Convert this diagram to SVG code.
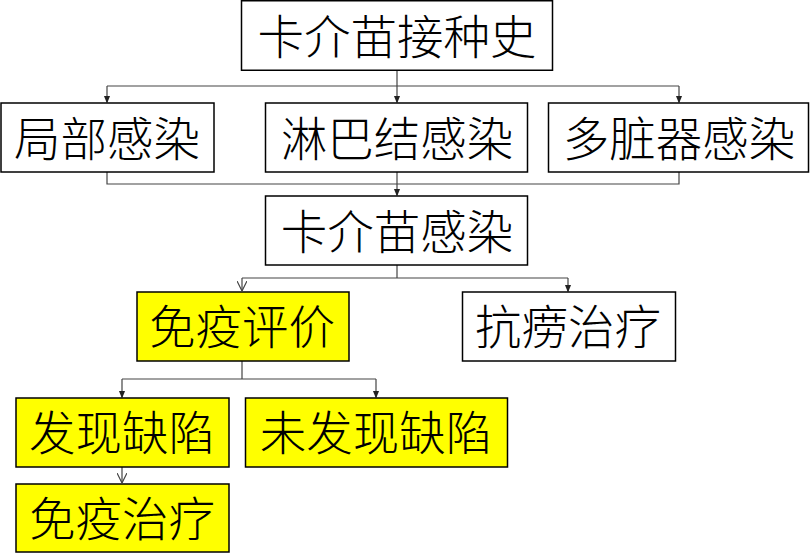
<svg xmlns="http://www.w3.org/2000/svg" width="810" height="553" viewBox="0 0 810 553">
<style>
.box{fill:#fff;stroke:#000;stroke-width:1.5}
.yel{fill:#ffff00}
.t{font-family:"Noto Sans CJK SC","Noto Sans CJK JP",sans-serif;font-size:46.5px;font-weight:300;fill:#000;text-anchor:middle}
.c{fill:none;stroke:#444;stroke-width:1.2}
</style>
<defs>
<marker id="a" markerWidth="8" markerHeight="10" refX="8" refY="4" orient="auto" markerUnits="userSpaceOnUse" viewBox="0 0 10 8">
<path d="M0,0 L10,4 L0,8 Z" fill="#222"/>
</marker>
<marker id="o" markerWidth="10" markerHeight="10" refX="10" refY="5" orient="auto" markerUnits="userSpaceOnUse" viewBox="0 0 10 10">
<path d="M0,0 L10,5 L0,10" fill="none" stroke="#444" stroke-width="1.2"/>
</marker>
</defs>
<g id="connectors">
<path class="c" d="M397,70 V86 M107,86 H679"/>
<path class="c" d="M107,86 V102" marker-end="url(#a)"/>
<path class="c" d="M397,86 V102" marker-end="url(#a)"/>
<path class="c" d="M679,86 V102" marker-end="url(#a)"/>
<path class="c" d="M107,172 V184 H679 V172"/>
<path class="c" d="M397,172 V195" marker-end="url(#a)"/>
<path class="c" d="M397,265 V278 M242,278 H568"/>
<path class="c" d="M242,278 V291" marker-end="url(#o)"/>
<path class="c" d="M568,278 V291" marker-end="url(#a)"/>
<path class="c" d="M242,361 V379 M122,379 H376"/>
<path class="c" d="M122,379 V397" marker-end="url(#a)"/>
<path class="c" d="M376,379 V397" marker-end="url(#a)"/>
<path class="c" d="M122,467 V483" marker-end="url(#o)"/>
</g>
<g id="n1"><rect class="box" x="241.5" y="0.75" width="311" height="69.5"/><text class="t" x="397" y="54">卡介苗接种史</text></g>
<g id="n2"><rect class="box" x="1" y="103" width="213" height="69"/><text class="t" x="107" y="156">局部感染</text></g>
<g id="n3"><rect class="box" x="265.5" y="103" width="262" height="69"/><text class="t" x="397" y="156">淋巴结感染</text></g>
<g id="n4"><rect class="box" x="548.5" y="103" width="260" height="69"/><text class="t" x="679" y="156">多脏器感染</text></g>
<g id="n5"><rect class="box" x="265.5" y="196" width="262" height="69"/><text class="t" x="397" y="249">卡介苗感染</text></g>
<g id="n6"><rect class="box yel" x="137" y="292" width="212" height="69"/><text class="t" x="242" y="344">免疫评价</text></g>
<g id="n7"><rect class="box" x="462.5" y="292" width="213" height="69"/><text class="t" x="568" y="344">抗痨治疗</text></g>
<g id="n8"><rect class="box yel" x="16" y="398" width="213" height="69"/><text class="t" x="122" y="450">发现缺陷</text></g>
<g id="n9"><rect class="box yel" x="245.5" y="398" width="262" height="69"/><text class="t" x="376" y="450">未发现缺陷</text></g>
<g id="n10"><rect class="box yel" x="16" y="484" width="213" height="68"/><text class="t" x="122" y="536">免疫治疗</text></g>
</svg>
